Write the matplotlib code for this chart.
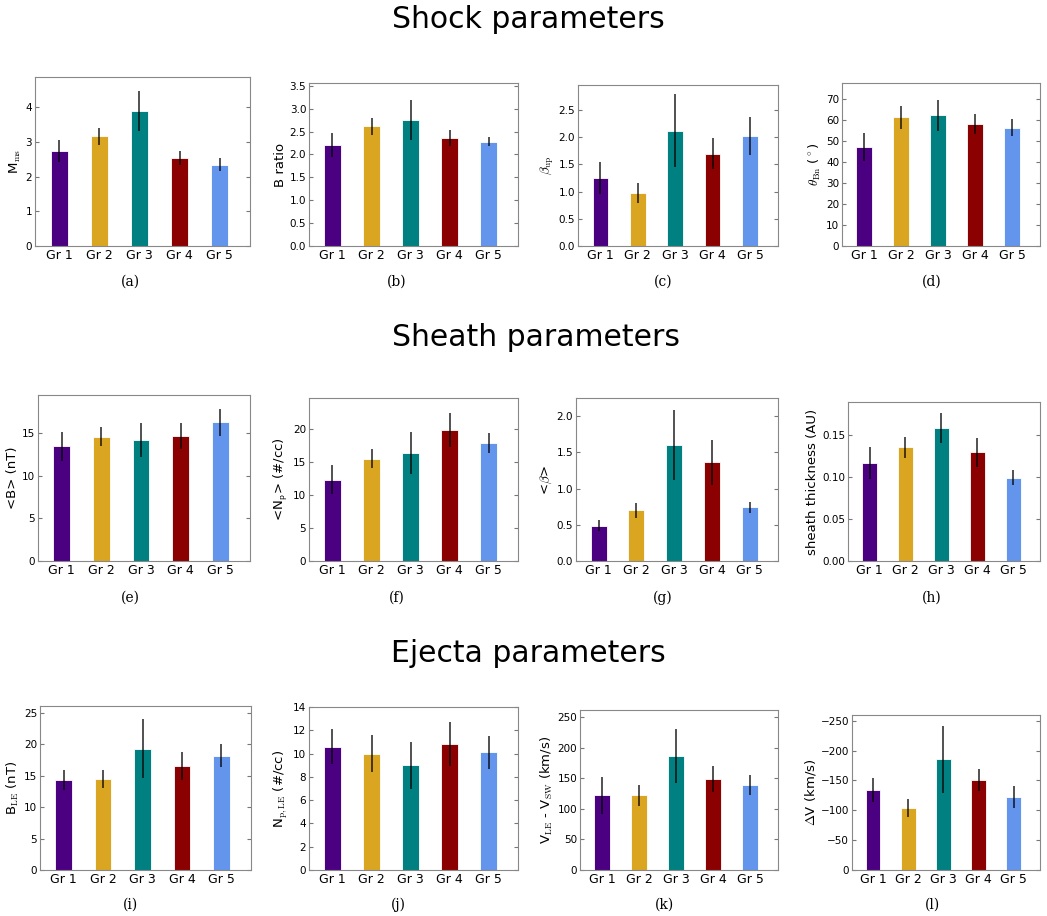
import numpy as np
import matplotlib
matplotlib.use('Agg')
import matplotlib.pyplot as plt

groups = ['Gr 1', 'Gr 2', 'Gr 3', 'Gr 4', 'Gr 5']
colors = ['#4B0082', '#DAA520', '#008080', '#8B0000', '#6495ED']

# shock
mach = [2.75, 3.17, 3.90, 2.53, 2.35]
mach_err = [0.32, 0.25, 0.58, 0.20, 0.18]
bratio = [2.20, 2.61, 2.75, 2.36, 2.28]
bratio_err = [0.26, 0.19, 0.44, 0.17, 0.09]
beta_up = [1.25, 0.97, 2.12, 1.70, 2.02]
beta_up_err = [0.30, 0.18, 0.67, 0.28, 0.35]
theta_bn = [47.0, 61.3, 62.2, 58.0, 56.3]
theta_bn_err = [6.7, 5.5, 7.3, 4.6, 4.2]

# sheath
b_sheath = [13.5, 14.6, 14.2, 14.7, 16.3]
b_sheath_err = [1.7, 1.1, 2.0, 1.5, 1.6]
np_sheath = [12.3, 15.5, 16.4, 19.8, 17.9]
np_sheath_err = [2.2, 1.45, 3.2, 2.6, 1.55]
beta_sheath = [0.49, 0.70, 1.60, 1.36, 0.74]
beta_sheath_err = [0.07, 0.10, 0.48, 0.31, 0.08]
thickness = [0.117, 0.135, 0.158, 0.129, 0.099]
thickness_err = [0.019, 0.012, 0.018, 0.017, 0.009]

# ejecta
b_le = [14.3, 14.5, 19.3, 16.5, 18.2]
b_le_err = [1.6, 1.4, 4.7, 2.2, 1.8]
np_le = [10.6, 10.0, 9.0, 10.8, 10.1]
np_le_err = [1.5, 1.6, 2.0, 1.9, 1.4]
v_rel = [122, 122, 187, 149, 139]
v_rel_err = [31, 17, 44, 22, 17]
dv = [-134, -104, -185, -151, -122]
dv_err = [20, 15, 56, 18, 18]

plt.rcParams['mathtext.fontset'] = 'cm'
plt.rcParams['font.family'] = 'DejaVu Sans'

W, H = 1047, 916
fig = plt.figure(figsize=(W / 100, H / 100), dpi=100)

def px_axes(l, t, r, b):
    return fig.add_axes([l / W, 1 - b / H, (r - l) / W, (b - t) / H])

panels = [
    # rect, values, errs, ylabel, ylim, yticks, letter, letter pos
    ((35, 77, 250, 246), mach, mach_err, r'M$_{\rm ms}$', (0, 4.88), np.arange(0, 5, 1), '(a)', (130, 282)),
    ((309, 83, 518, 246), bratio, bratio_err, 'B ratio', (0, 3.56), np.arange(0, 3.6, 0.5), '(b)', (397, 282)),
    ((578, 85, 778, 246), beta_up, beta_up_err, r'$\beta_{\rm up}$', (0, 2.96), np.arange(0, 2.6, 0.5), '(c)', (663, 282)),
    ((842, 83, 1040, 246), theta_bn, theta_bn_err, r'$\theta_{\rm Bn}$ ($^\circ$)', (0, 77.5), np.arange(0, 71, 10), '(d)', (932, 282)),
    ((38, 395, 250, 561), b_sheath, b_sheath_err, '<B> (nT)', (0, 19.5), np.arange(0, 16, 5), '(e)', (130, 598)),
    ((309, 398, 518, 561), np_sheath, np_sheath_err, r'<N$_\mathsf{p}$> (#/cc)', (0, 24.7), np.arange(0, 21, 5), '(f)', (397, 598)),
    ((576, 398, 778, 561), beta_sheath, beta_sheath_err, r'<$\beta$>', (0, 2.25), np.arange(0, 2.1, 0.5), '(g)', (663, 598)),
    ((848, 402, 1040, 561), thickness, thickness_err, 'sheath thickness (AU)', (0, 0.189), np.arange(0, 0.16, 0.05), '(h)', (932, 598)),
    ((40, 706, 251, 870), b_le, b_le_err, r'B$_{\rm LE}$ (nT)', (0, 26.1), np.arange(0, 26, 5), '(i)', (130, 905)),
    ((309, 707, 518, 870), np_le, np_le_err, r'N$_{\rm p,LE}$ (#/cc)', (0, 14.0), np.arange(0, 15, 2), '(j)', (398, 905)),
    ((580, 710, 778, 870), v_rel, v_rel_err, r'V$_{\rm LE}$ - V$_{\rm SW}$ (km/s)', (0, 262), np.arange(0, 251, 50), '(k)', (665, 905)),
    ((852, 715, 1040, 870), dv, dv_err, r'$\Delta$V (km/s)', (0, -259.5), np.arange(0, -251, -50), '(l)', (932, 905)),
]

x = np.arange(len(groups))
for rect, vals, errs, ylab, ylim, yt, letter, lpos in panels:
    ax = px_axes(*rect)
    ax.bar(x, vals, width=0.42, color=colors, edgecolor='white', linewidth=0.6, zorder=2)
    ax.errorbar(x, vals, yerr=errs, fmt='none', ecolor='black', elinewidth=1.2, alpha=0.8, capsize=0, zorder=3)
    ax.set_xlim(-0.6, 4.75)
    ax.set_ylim(*ylim)
    ax.set_yticks(yt)
    if letter == '(h)':
        ax.set_yticklabels(['%.2f' % v for v in yt])
    elif letter in ('(b)', '(c)', '(g)'):
        ax.set_yticklabels(['%.1f' % v for v in yt])
    ax.set_xticks(x)
    ax.set_xticklabels(groups, fontsize=9)
    ax.tick_params(axis='y', labelsize=7.5)
    ax.tick_params(direction='in', top=True, right=True, length=3, color='#777777', pad=2)
    ax.tick_params(axis='x', top=False, length=0)
    for s in ax.spines.values():
        s.set_color('#888888')
    ax.set_ylabel(ylab, fontsize=9.5, labelpad=2)
    fig.text(lpos[0] / W, 1 - lpos[1] / H, letter, ha='center', va='center',
             fontsize=10, family='DejaVu Serif')

fig.text(528 / W, 1 - 20 / H, 'Shock parameters', ha='center', va='center', fontsize=21.5)
fig.text(536 / W, 1 - 337 / H, 'Sheath parameters', ha='center', va='center', fontsize=21.5)
fig.text(528 / W, 1 - 654 / H, 'Ejecta parameters', ha='center', va='center', fontsize=21.5)

fig.savefig('out.png', dpi=100)
